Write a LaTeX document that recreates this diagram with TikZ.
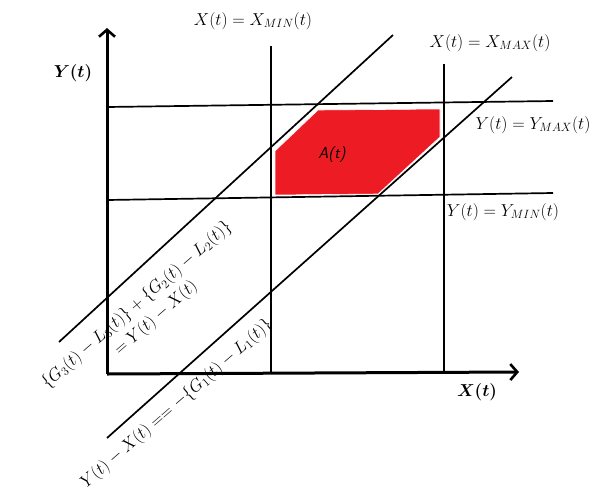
\documentclass[tikz,border=0pt]{standalone}
\usepackage{amsmath}
\usepackage{bm}
\usetikzlibrary{arrows.meta}
\tikzset{
  thinline/.style={line width=1.7pt, black},
  axisline/.style={line width=3pt, black, -{Straight Barb[length=7pt,width=16pt,line width=2.6pt]}},
  lbl/.style={font=\fontsize{16.5}{19}\selectfont, inner sep=0pt},
  rlbl/.style={font=\fontsize{17.5}{20}\selectfont, inner sep=0pt, rotate=41},
  region/.style={fill={rgb,255:red,237;green,28;blue,36}, draw=white, line width=0.6pt}
}
\begin{document}
\begin{tikzpicture}[x=1pt,y=-1pt]
\useasboundingbox (0,0) rectangle (599,501);
% coordinates
\coordinate (o) at (107,374);
\coordinate (ytip) at (107,28);
\coordinate (xtip) at (519,372);
\coordinate (ymaxL) at (107,107);
\coordinate (ymaxR) at (553,101);
\coordinate (yminL) at (107,200);
\coordinate (yminR) at (553,193);
\coordinate (xminT) at (271,46);
\coordinate (xminB) at (271,373);
\coordinate (xmaxT) at (444,64);
\coordinate (xmaxB) at (444,372);
\coordinate (d1a) at (59,342);
\coordinate (d1b) at (393,35);
\coordinate (d2a) at (107,438);
\coordinate (d2b) at (512,77);
% lines
\draw[thinline] (ymaxL) -- (ymaxR);
\draw[thinline] (yminL) -- (yminR);
\draw[thinline] (xminT) -- (xminB);
\draw[thinline] (xmaxT) -- (xmaxB);
\draw[thinline] (d1a) -- (d1b);
\draw[thinline] (d2a) -- (d2b);
% region
\draw[region] (318,110) -- (440,109) -- (440,137) -- (378,194) -- (275,195) -- (275,151) -- cycle;
\node[lbl, font=\fontsize{16}{18}\selectfont\sffamily\itshape] (A) at (332,155) {A(t)};
% axes
\draw[axisline] (o) -- (ytip);
\draw[axisline] (o) -- (xtip);
% labels
\node[lbl] (lxmin) at (253,21) {$X(t) = X_{MIN}(t)$};
\node[lbl] (lxmax) at (490,43) {$X(t) = X_{MAX}(t)$};
\node[lbl, font=\fontsize{17}{19}\selectfont] (lymax) at (533,125) {$Y(t) = Y_{MAX}(t)$};
\node[lbl, font=\fontsize{17}{19}\selectfont] (lymin) at (503,212) {$Y(t) = Y_{MIN}(t)$};
\node[lbl, font=\fontsize{16}{18}\selectfont] (ly) at (73,73) {$\bm{Y(t)}$};
\node[lbl, font=\fontsize{16}{18}\selectfont] (lx) at (477,392) {$\bm{X(t)}$};
\node[rlbl] (g1) at (137,305) {$\{G_3(t) - L_3(t)\} + \{G_2(t) - L_2(t)\}$};
\node[rlbl] (g2) at (156,318) {$= Y(t) - X(t)$};
\node[rlbl] (g3) at (177,404) {$Y(t) - X(t) == -\{G_1(t) - L_1(t)\}$};
\end{tikzpicture}
\end{document}
